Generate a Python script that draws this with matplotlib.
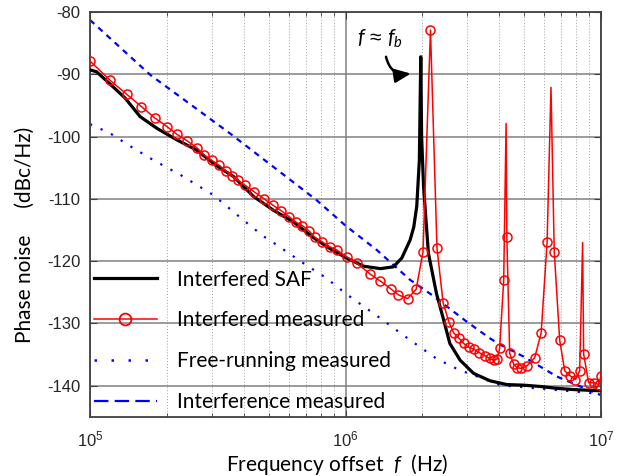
import matplotlib.pyplot as plt
from matplotlib.lines import Line2D
from matplotlib.ticker import FixedLocator, FixedFormatter, NullFormatter

# Interfered SAF (black)
f_saf = [1.00e5, 1.06e5, 1.20e5, 1.37e5, 1.57e5, 1.83e5, 2.18e5, 2.62e5, 3.13e5,
         3.64e5, 4.36e5, 5.21e5, 6.25e5, 7.48e5, 8.70e5, 1.01e6, 1.175e6, 1.37e6,
         1.54e6, 1.66e6, 1.79e6, 1.85e6, 1.90e6, 1.945e6, 1.97e6, 1.985e6, 2.02e6,
         2.11e6, 2.27e6, 2.42e6, 2.56e6, 2.81e6, 3.17e6, 3.68e6, 4.28e6, 5.0e6,
         5.77e6, 6.7e6, 7.80e6, 8.8e6, 1.00e7]
pn_saf = [-89.3, -89.6, -91.6, -93.8, -96.8, -98.7, -100.5, -102.2, -104.7,
          -106.4, -109.6, -111.8, -113.7, -116.2, -118.0, -119.5, -120.8, -121.2,
          -120.9, -119.5, -116.6, -114.5, -111.2, -103.8, -87.2, -100.0, -108.0,
          -118.7, -125.2, -129.4, -133.2, -135.9, -138.0, -139.2, -139.8, -139.9,
          -140.1, -140.4, -140.6, -140.7, -140.8]

# Interfered measured (red)
f_meas = [1.00e5, 1.20e5, 1.39e5, 1.59e5, 1.79e5, 2.00e5, 2.18e5, 2.40e5, 2.62e5,
          2.80e5, 2.99e5, 3.20e5, 3.40e5, 3.60e5, 3.78e5, 4.04e5, 4.40e5, 4.80e5,
          5.19e5, 5.60e5, 6.03e5, 6.38e5, 6.78e5, 7.22e5, 7.60e5, 8.10e5, 8.69e5,
          9.24e5, 1.01e6, 1.107e6, 1.25e6, 1.37e6, 1.50e6, 1.61e6, 1.75e6, 1.89e6,
          2.01e6, 2.15e6, 2.28e6, 2.41e6, 2.54e6, 2.65e6, 2.77e6, 2.90e6, 3.03e6,
          3.17e6, 3.34e6, 3.52e6, 3.66e6, 3.80e6, 3.92e6, 4.01e6, 4.16e6, 4.25e6,
          4.28e6, 4.39e6, 4.55e6, 4.69e6, 4.86e6, 5.13e6, 5.50e6, 5.83e6, 6.15e6,
          6.37e6, 6.56e6, 6.89e6, 7.21e6, 7.58e6, 7.93e6, 8.25e6, 8.47e6, 8.55e6,
          8.94e6, 9.35e6, 9.79e6, 1.00e7]
pn_meas = [-87.9, -91.0, -93.2, -95.2, -97.0, -98.4, -99.6, -100.7, -101.8,
           -103.0, -103.8, -104.6, -105.5, -106.3, -107.0, -107.8, -108.9, -110.0,
           -111.0, -111.9, -112.9, -113.7, -114.3, -115.2, -116.2, -116.9, -117.7,
           -118.2, -119.3, -120.3, -122.1, -123.2, -124.4, -125.4, -126.0, -124.5,
           -118.5, -82.9, -117.9, -126.7, -129.8, -131.5, -132.3, -133.2, -133.8,
           -134.1, -134.7, -135.2, -135.6, -135.9, -135.7, -134.0, -123.0, -97.9,
           -116.2, -134.8, -136.5, -137.1, -137.2, -136.8, -135.5, -131.5, -117.0,
           -92.1, -118.5, -132.7, -137.6, -138.4, -139.0, -137.6, -117.0, -134.9,
           -139.5, -139.5, -139.8, -138.4]
meas_unmarked = [4.25e6, 6.37e6, 8.47e6]

# Free-running measured (blue dotted)
f_free = [1.00e5, 1.20e5, 1.43e5, 1.74e5, 2.29e5, 3.04e5, 3.98e5, 4.77e5, 5.21e5,
          6.94e5, 8.34e5, 1.01e6, 1.33e6, 1.74e6, 2.28e6, 2.77e6, 3.37e6, 4.04e6,
          6.0e6, 1.00e7]
pn_free = [-98.0, -99.5, -101.5, -103.6, -106.3, -109.4, -113.4, -116.0, -117.0,
           -120.5, -122.6, -125.3, -128.8, -132.3, -135.7, -137.4, -138.7, -139.9,
           -140.5, -141.3]

# Interference measured (blue dashed)
f_intf = [1.00e5, 1.72e5, 3.53e5, 7.70e5, 1.00e6, 1.325e6, 1.79e6, 2.14e6, 2.98e6,
          3.68e6, 4.03e6, 4.97e6, 6.71e6, 9.60e6, 1.00e7]
pn_intf = [-81.3, -90.1, -99.5, -110.2, -114.3, -118.2, -123.0, -125.2, -129.7,
           -132.4, -133.4, -135.3, -138.5, -141.2, -141.5]

labels = ['Interfered SAF', 'Interfered measured', 'Free-running measured',
          'Interference measured']
yticks = [-80, -90, -100, -110, -120, -130, -140]
xticks = [1e5, 1e6, 1e7]
xticklabels = ['$10^{5}$', '$10^{6}$', '$10^{7}$']

plt.rcParams['font.family'] = 'Liberation Sans'
plt.rcParams['axes.unicode_minus'] = False
plt.rcParams['mathtext.fontset'] = 'custom'
plt.rcParams['mathtext.rm'] = 'Liberation Sans'
plt.rcParams['mathtext.it'] = 'Lato:italic'

fig = plt.figure(figsize=(6.34, 4.76), dpi=100)
ax = fig.add_axes([0.142, 0.124, 0.806, 0.851])

ax.plot(f_saf, pn_saf, color='black', lw=2.3, zorder=3)
marks = [i for i, f in enumerate(f_meas) if f not in meas_unmarked]
ax.plot(f_meas, pn_meas, color='red', lw=1.1, marker='o', markersize=6.5,
        markerfacecolor='none', markeredgewidth=1.1, markevery=marks, zorder=4)
ax.plot(f_free, pn_free, color='blue', lw=1.6, linestyle=(0, (1, 4.2)), zorder=2)
ax.plot(f_intf, pn_intf, color='blue', lw=1.6, linestyle=(0, (2.6, 2.4)), zorder=2)

ax.set_xscale('log')
ax.set_xlim(1e5, 1e7)
ax.set_ylim(-145, -80)
ax.xaxis.set_major_locator(FixedLocator(xticks))
ax.xaxis.set_major_formatter(FixedFormatter(xticklabels))
ax.xaxis.set_minor_formatter(NullFormatter())
ax.yaxis.set_major_locator(FixedLocator(yticks))

ax.grid(True, which='major', color='#808080', lw=1.1)
ax.grid(True, which='minor', axis='x', color='#a0a0a0', lw=0.7, linestyle=(0, (1, 2)))
ax.tick_params(which='both', direction='in', top=True, right=True,
               colors='#404040', labelcolor='#262626')
ax.tick_params(which='major', length=5, labelsize=12, pad=7)
ax.tick_params(axis='x', which='major', labelsize=12, pad=9)
ax.tick_params(which='minor', length=3)
for s in ax.spines.values():
    s.set_color('#404040')
    s.set_linewidth(1.3)

ax.set_xlabel('Frequency offset  $f$  (Hz)', family='Lato', fontsize=15)
ax.set_ylabel('Phase noise     (dBc/Hz)', family='Lato', fontsize=15)
ax.xaxis.set_label_coords(0.483, -0.086)
ax.yaxis.set_label_coords(-0.108, 0.45)

ax.text(1.36e6, -84.4, r'$f\,\approx\,f_b$', fontsize=15, ha='center', va='center')
ax.annotate('', xy=(1.80e6, -89.9), xytext=(1.44e6, -87.2),
            arrowprops=dict(arrowstyle='-|>,head_length=0.8,head_width=0.35',
                            connectionstyle='arc3,rad=0.45', color='black', lw=1.8,
                            mutation_scale=12, shrinkA=0, shrinkB=0))

handles = [
    Line2D([], [], color='black', lw=2.3),
    Line2D([], [], color='red', lw=1.1, marker='o', markersize=8.5,
           markerfacecolor='none', markeredgewidth=1.3),
    Line2D([], [], color='blue', lw=1.8, linestyle=(0, (1, 5.8))),
    Line2D([], [], color='blue', lw=1.6, linestyle=(0, (6.5, 2.8))),
]
ax.legend(handles, labels, loc='lower left', bbox_to_anchor=(0.008, 0.012),
          frameon=False, prop={'family': 'Lato', 'size': 15}, borderpad=0,
          borderaxespad=0, handlelength=3.0, handletextpad=0.96, labelspacing=1.0)

fig.savefig('out.png', dpi=100)
